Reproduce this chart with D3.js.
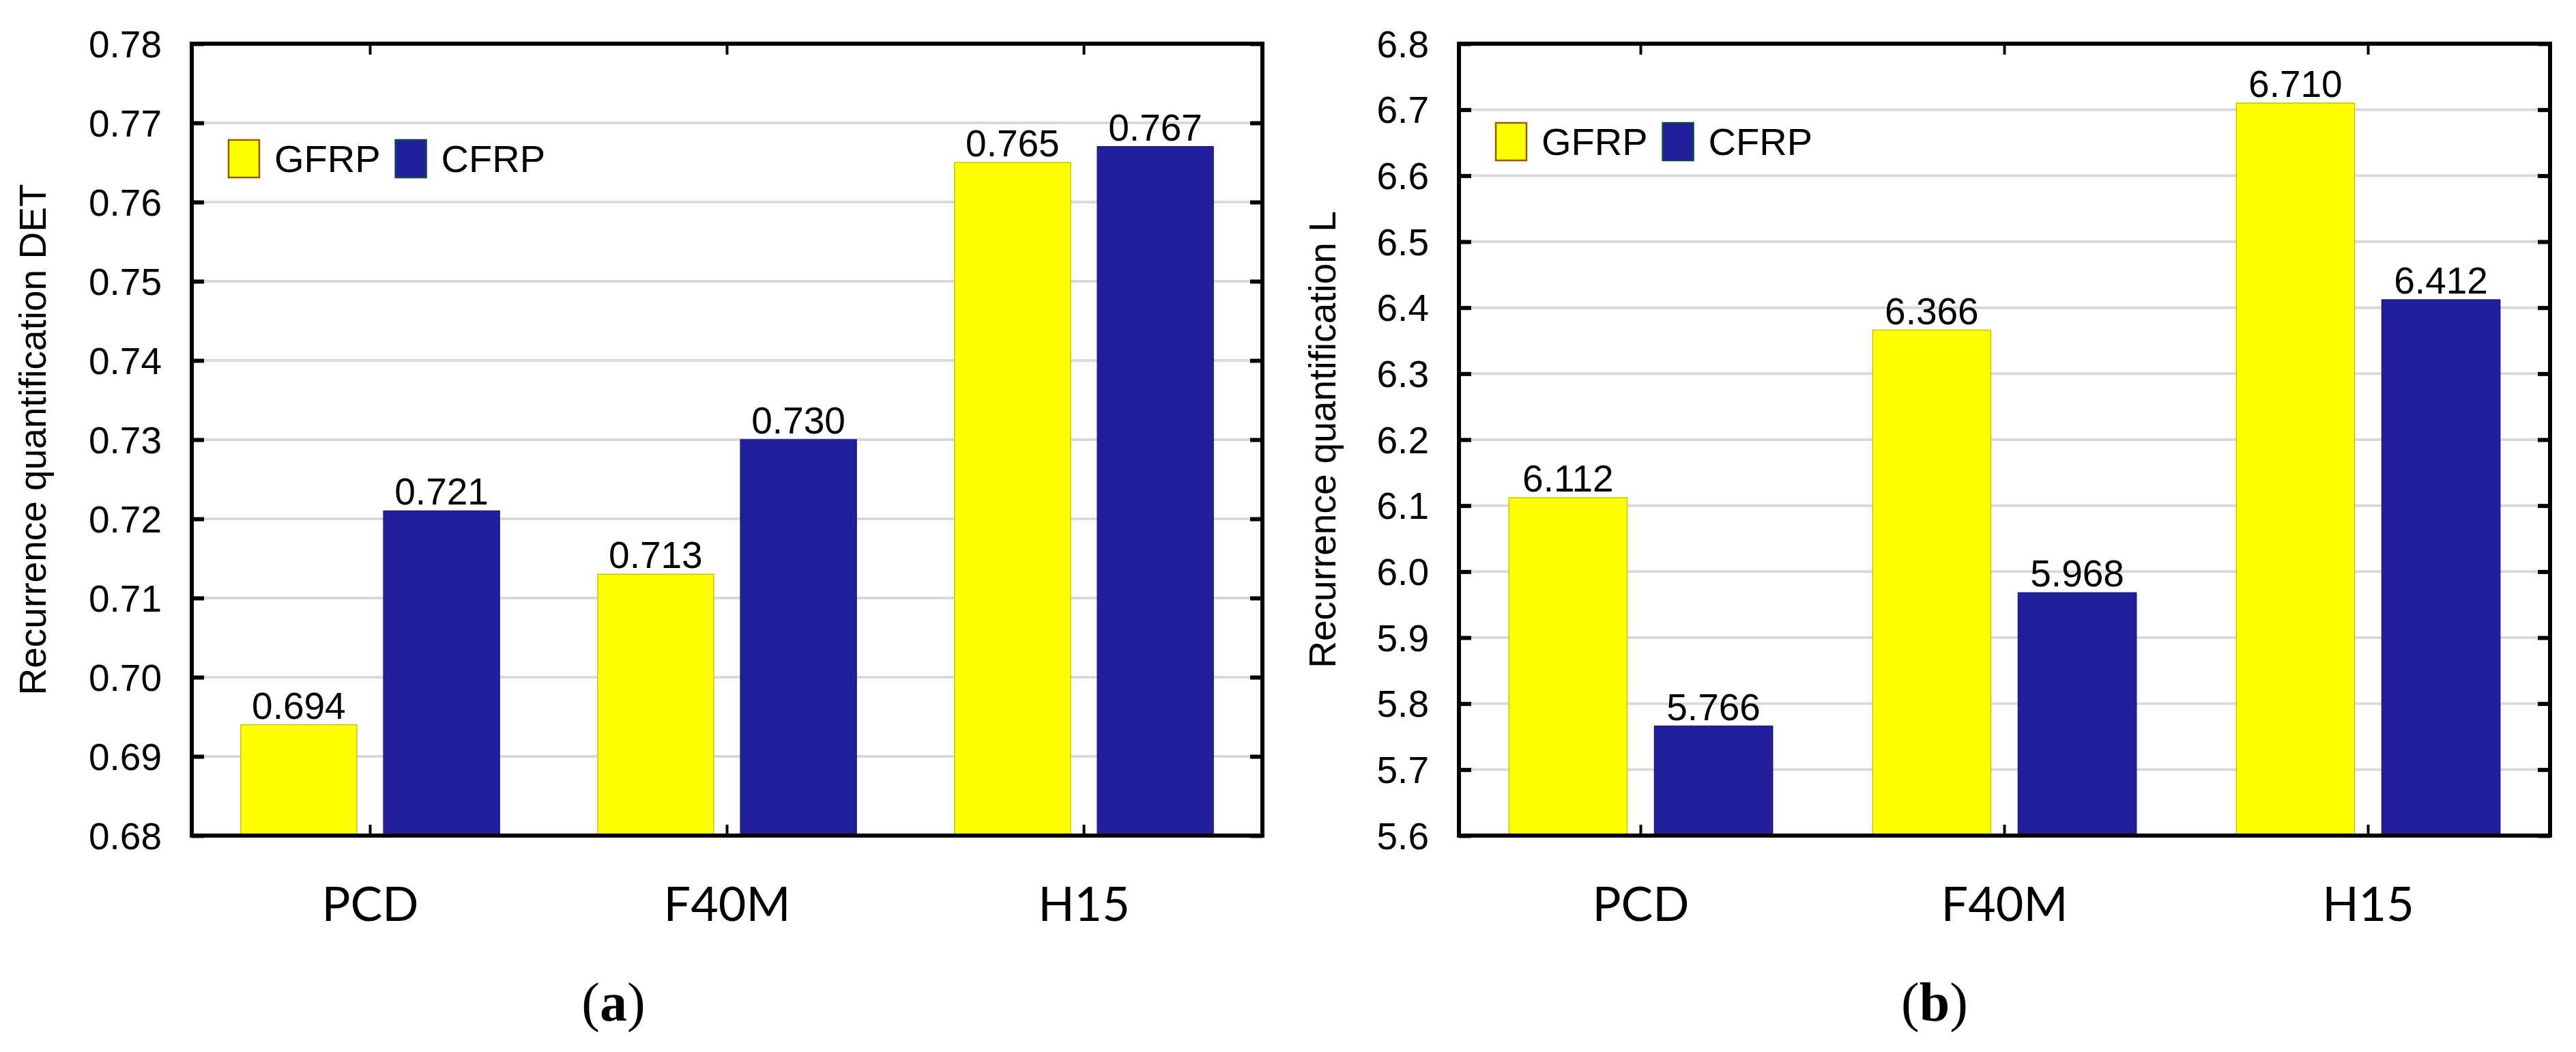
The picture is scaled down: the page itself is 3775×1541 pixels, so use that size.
<!DOCTYPE html>
<meta charset="utf-8">
<body>
<style>
  body { margin: 0; background: #fff; }
  svg { display: block; }
</style>
<script src="https://cdn.jsdelivr.net/npm/d3@7"></script>
<script>

// categories and series
const categories = ["PCD", "F40M", "H15"];
const seriesNames = ["GFRP", "CFRP"];

// panel (a): recurrence quantification DET
const detGFRP = [0.694, 0.713, 0.765];
const detCFRP = [0.721, 0.730, 0.767];
const detTicks = [0.68, 0.69, 0.70, 0.71, 0.72, 0.73, 0.74, 0.75, 0.76, 0.77, 0.78];

// panel (b): recurrence quantification L
const lenGFRP = [6.112, 6.366, 6.710];
const lenCFRP = [5.766, 5.968, 6.412];
const lenTicks = [5.6, 5.7, 5.8, 5.9, 6.0, 6.1, 6.2, 6.3, 6.4, 6.5, 6.6, 6.7, 6.8];

const width = 3775, height = 1541;
const colors = { GFRP: "#ffff00", CFRP: "#221f9c" };
const strokes = { GFRP: "#c9c300", CFRP: "#1c1a80" };
const legendStrokes = { GFRP: "#9a5a00", CFRP: "#0e4a4a" };
const sans = "'Liberation Sans', Arial, sans-serif";

const svg = d3.select("body").append("svg")
  .attr("width", width)
  .attr("height", height);

/*
 * Draws one bar panel with framed axes, grid, bars, labels and legend.
 */
function drawPanel(opt) {
  const g = svg.append("g");
  const top = 64, bottom = 1224;

  const x = d3.scaleBand().domain(categories).range([opt.left, opt.right]);
  const bw = x.bandwidth();
  const xs = d3.scaleBand().domain(seriesNames)
    .range([0.1375 * bw, 0.8625 * bw]).paddingInner(0.1875);
  const y = d3.scaleLinear().domain(d3.extent(opt.ticks)).range([bottom, top]);

  // gridlines
  g.append("g").selectAll("line")
    .data(opt.ticks.slice(1, -1))
    .join("line")
    .attr("x1", opt.left).attr("x2", opt.right)
    .attr("y1", d => y(d)).attr("y2", d => y(d))
    .attr("stroke", "#d9d9d9").attr("stroke-width", 4);

  // bars
  const rows = categories.map((c, i) => ({ cat: c, GFRP: opt.g[i], CFRP: opt.c[i] }));
  const groups = g.append("g").selectAll("g")
    .data(rows)
    .join("g")
    .attr("transform", d => `translate(${x(d.cat)},0)`);

  groups.selectAll("rect")
    .data(d => seriesNames.map(s => ({ s: s, v: d[s] })))
    .join("rect")
    .attr("x", d => xs(d.s))
    .attr("width", xs.bandwidth())
    .attr("y", d => y(d.v))
    .attr("height", d => bottom - y(d.v))
    .attr("fill", d => colors[d.s])
    .attr("stroke", d => strokes[d.s])
    .attr("stroke-width", 1.5);

  groups.selectAll("text")
    .data(d => seriesNames.map(s => ({ s: s, v: d[s] })))
    .join("text")
    .attr("x", d => xs(d.s) + xs.bandwidth() / 2)
    .attr("y", d => y(d.v) - 9)
    .attr("text-anchor", "middle")
    .attr("font-family", sans)
    .attr("font-size", 55)
    .text(d => d3.format(".3f")(d.v));

  // y ticks on both sides, pointing inward
  const yAxisL = d3.axisLeft(y).tickValues(opt.ticks).tickSize(-18).tickFormat("");
  const yAxisR = d3.axisRight(y).tickValues(opt.ticks).tickSize(-18).tickFormat("");
  g.append("g").attr("transform", `translate(${opt.left},0)`).call(yAxisL)
    .call(a => a.selectAll("line").attr("stroke-width", 6));
  g.append("g").attr("transform", `translate(${opt.right},0)`).call(yAxisR)
    .call(a => a.selectAll("line").attr("stroke-width", 6));

  // x ticks top and bottom, pointing inward
  const xAxisB = d3.axisBottom(x).tickSize(-16).tickFormat("");
  const xAxisT = d3.axisTop(x).tickSize(-16).tickFormat("");
  g.append("g").attr("transform", `translate(0,${bottom})`).call(xAxisB)
    .call(a => a.selectAll("line").attr("stroke-width", 4));
  g.append("g").attr("transform", `translate(0,${top})`).call(xAxisT)
    .call(a => a.selectAll("line").attr("stroke-width", 4));
  g.selectAll(".domain").remove();

  // frame
  g.append("rect")
    .attr("x", opt.left).attr("y", top)
    .attr("width", opt.right - opt.left).attr("height", bottom - top)
    .attr("fill", "none").attr("stroke", "#000").attr("stroke-width", 6);

  // y tick labels
  g.append("g").selectAll("text")
    .data(opt.ticks)
    .join("text")
    .attr("x", opt.left - 44)
    .attr("y", d => y(d))
    .attr("dy", "0.36em")
    .attr("text-anchor", "end")
    .attr("font-family", sans)
    .attr("font-size", 55)
    .text(d => d3.format(opt.fmt)(d));

  // x category labels
  g.append("g").selectAll("text")
    .data(categories)
    .join("text")
    .attr("x", d => x(d) + bw / 2)
    .attr("y", 1349)
    .attr("text-anchor", "middle")
    .attr("font-family", "Lato, 'Open Sans', sans-serif")
    .attr("font-size", 70)
    .text(d => d);

  // y axis title
  g.append("text")
    .attr("transform", `translate(${opt.titleX},${(top + bottom) / 2}) rotate(-90)`)
    .attr("text-anchor", "middle")
    .attr("dy", "0.36em")
    .attr("font-family", sans)
    .attr("font-size", 55)
    .text(opt.title);

  // legend
  const lg = g.append("g")
    .attr("transform", `translate(${opt.left + 54},${opt.legendY})`);
  let lx = 0;
  seriesNames.forEach(s => {
    lg.append("rect")
      .attr("x", lx).attr("y", -27)
      .attr("width", 45).attr("height", 55)
      .attr("fill", colors[s])
      .attr("stroke", legendStrokes[s]).attr("stroke-width", 2.5);
    const t = lg.append("text")
      .attr("x", lx + 67).attr("y", 0)
      .attr("dy", "0.36em")
      .attr("font-family", sans)
      .attr("font-size", 56)
      .text(s);
    lx += 67 + t.node().getComputedTextLength() + 22;
  });

  // panel letter
  const letter = svg.append("text")
    .attr("x", opt.letterX).attr("y", 1495)
    .attr("text-anchor", "middle")
    .attr("font-family", "'Liberation Serif', 'Times New Roman', serif")
    .attr("font-size", 80);
  letter.append("tspan").text("(");
  letter.append("tspan").attr("font-weight", "bold").text(opt.letter);
  letter.append("tspan").text(")");
}

drawPanel({
  left: 281, right: 1850, ticks: detTicks, fmt: ".2f",
  g: detGFRP, c: detCFRP,
  title: "Recurrence quantification DET", titleX: 47,
  legendY: 232, letter: "a", letterX: 899
});

drawPanel({
  left: 2138, right: 3737, ticks: lenTicks, fmt: ".1f",
  g: lenGFRP, c: lenCFRP,
  title: "Recurrence quantification L", titleX: 1937,
  legendY: 207, letter: "b", letterX: 2835
});
</script>
</body>
